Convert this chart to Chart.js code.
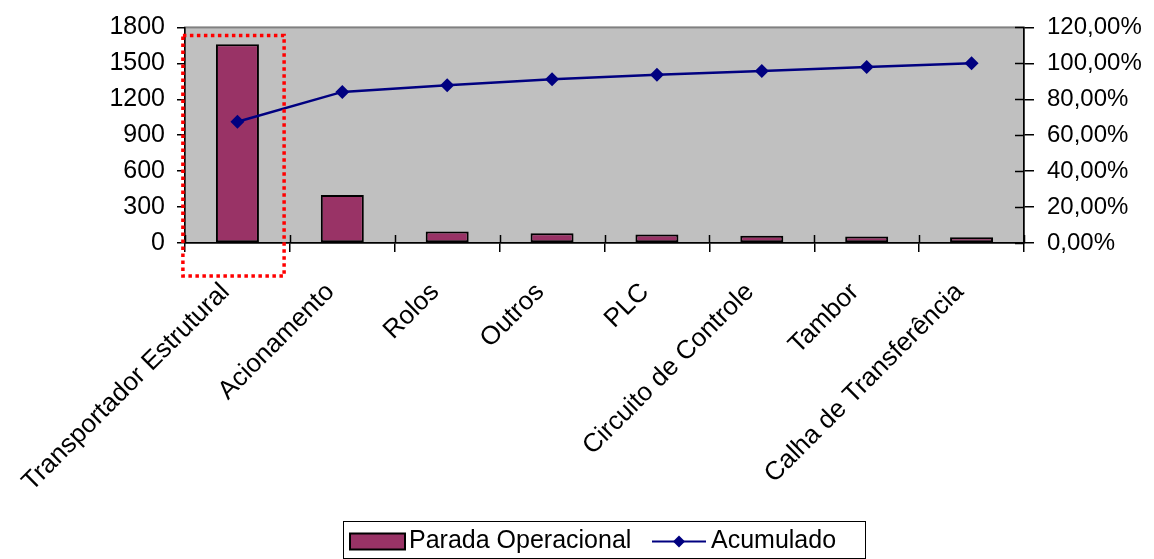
<!DOCTYPE html>
<html>
<head>
<meta charset="utf-8">
<script src="https://cdn.jsdelivr.net/npm/chart.js@4/dist/chart.umd.min.js"></script>
<style>
  html, body { margin: 0; padding: 0; background: #ffffff; }
  #wrap { width: 1154px; height: 559px; position: relative; }
</style>
</head>
<body>
<div id="wrap"><canvas id="c" width="1154" height="559"></canvas></div>
<script>
// Pareto das paradas operacionais
const categories = [
  'Transportador Estrutural', 'Acionamento', 'Rolos', 'Outros',
  'PLC', 'Circuito de Controle', 'Tambor', 'Calha de Transferência'
];
const paradaOperacional = [1660, 400, 95, 81, 70, 60, 54, 48];
const acumulado = [67.5, 84.1, 87.8, 91.2, 93.6, 95.8, 98.0, 100.0];
const leftTicks = [0, 300, 600, 900, 1200, 1500, 1800];
const rightTicks = [0, 20, 40, 60, 80, 100, 120];

const FAMILY = '"Liberation Sans", Arial, sans-serif';
const FONT = { family: FAMILY, size: 25 };
const LABEL_FONT = { family: FAMILY, size: 26 };
const AXIS_FONT = { family: FAMILY, size: 24 };
const BAR_COLOR = '#993366';
const LINE_COLOR = '#000080';

// Grey plot area with its frame
const plotBackground = {
  id: 'plotBackground',
  beforeDraw(chart) {
    const { ctx, chartArea: a } = chart;
    ctx.save();
    ctx.fillStyle = '#c0c0c0';
    ctx.fillRect(a.left, a.top, a.right - a.left, a.bottom - a.top);
    ctx.strokeStyle = '#808080';
    ctx.lineWidth = 2;
    ctx.strokeRect(a.left, a.top, a.right - a.left, a.bottom - a.top);
    ctx.restore();
  },
  beforeDatasetsDraw(chart) {
    // inner halves of the crossing tick marks
    const { ctx, chartArea: a, scales } = chart;
    ctx.save();
    ctx.strokeStyle = '#000';
    ctx.lineWidth = 1.5;
    const n = categories.length;
    const w = (a.right - a.left) / n;
    ctx.beginPath();
    for (let i = 0; i <= n; i++) {
      const x = Math.round(a.left + i * w) + 0.5;
      ctx.moveTo(x, a.bottom - 8);
      ctx.lineTo(x, a.bottom);
    }
    rightTicks.forEach(v => {
      const y = Math.round(scales.y1.getPixelForValue(v)) + 0.5;
      ctx.moveTo(a.right - 9, y);
      ctx.lineTo(a.right, y);
    });
    ctx.stroke();
    ctx.restore();
  }
};

// Dotted highlight around the first category, and the boxed legend
const overlay = {
  id: 'overlay',
  afterDraw(chart) {
    const { ctx, chartArea: a, scales } = chart;
    const x = scales.x;
    const cw = (a.right - a.left) / categories.length;
    const cx = x.getPixelForValue(0);
    ctx.save();
    ctx.strokeStyle = '#ff0000';
    ctx.lineWidth = 3.5;
    ctx.setLineDash([3.5, 3.5]);
    const l = cx - cw * 0.52, r = cx + cw * 0.445;
    const t = a.top + 8, b = a.bottom + 33;
    ctx.strokeRect(l, t, r - l, b - t);
    ctx.restore();

    // legend
    const ds = chart.data.datasets;
    ctx.save();
    ctx.font = `${FONT.size}px ${FONT.family}`;
    ctx.textBaseline = 'middle';
    ctx.textAlign = 'left';
    const boxL = 343, boxT = 521, boxR = 865, boxB = 558;
    ctx.strokeStyle = '#000';
    ctx.lineWidth = 1;
    ctx.strokeRect(boxL + 0.5, boxT + 0.5, boxR - boxL, boxB - boxT);
    const cy = 541.5;
    // bar swatch
    ctx.fillStyle = ds[0].backgroundColor;
    ctx.fillRect(350, cy - 8, 55, 16);
    ctx.lineWidth = 2;
    ctx.strokeRect(350, cy - 8, 55, 16);
    ctx.fillStyle = '#000';
    ctx.fillText(ds[0].label, 409, cy);
    // line swatch
    ctx.strokeStyle = ds[1].borderColor;
    ctx.lineWidth = 2;
    ctx.beginPath();
    ctx.moveTo(652, cy);
    ctx.lineTo(706, cy);
    ctx.stroke();
    ctx.fillStyle = ds[1].borderColor;
    ctx.beginPath();
    ctx.moveTo(679, cy - 6);
    ctx.lineTo(685, cy);
    ctx.lineTo(679, cy + 6);
    ctx.lineTo(673, cy);
    ctx.closePath();
    ctx.fill();
    ctx.fillStyle = '#000';
    ctx.fillText(ds[1].label, 711, cy);
    ctx.restore();
  }
};

new Chart(document.getElementById('c'), {
  data: {
    labels: categories,
    datasets: [
      {
        type: 'bar',
        label: 'Parada Operacional',
        data: paradaOperacional,
        yAxisID: 'y',
        backgroundColor: BAR_COLOR,
        borderColor: '#000',
        borderWidth: 2,
        borderSkipped: false,
        barPercentage: 0.41,
        categoryPercentage: 1,
        order: 1
      },
      {
        type: 'line',
        label: 'Acumulado',
        data: acumulado,
        yAxisID: 'y1',
        borderColor: LINE_COLOR,
        backgroundColor: LINE_COLOR,
        borderWidth: 2.5,
        pointStyle: 'rectRot',
        pointRadius: 7,
        pointBorderWidth: 0,
        tension: 0,
        order: 0
      }
    ]
  },
  options: {
    responsive: false,
    animation: false,
    devicePixelRatio: 1,
    layout: { padding: { top: 26, left: 0, right: 0, bottom: 0 } },
    plugins: {
      legend: { display: false },
      tooltip: { enabled: false }
    },
    scales: {
      x: {
        type: 'category',
        offset: true,
        grid: { offset: true, drawOnChartArea: false, drawTicks: true, tickLength: 9, color: '#000', lineWidth: 1.5 },
        border: { display: true, color: '#000', width: 1.5 },
        ticks: { minRotation: 45, maxRotation: 45, autoSkip: false, color: '#000', font: LABEL_FONT, padding: 25, labelOffset: -12 },
        afterFit(s) { s.height = 316; }
      },
      y: {
        position: 'left',
        min: 0,
        max: 1800,
        afterBuildTicks(s) { s.ticks = leftTicks.map(v => ({ value: v })); },
        grid: { drawOnChartArea: false, drawTicks: true, tickLength: 8, color: '#000', lineWidth: 1.5 },
        border: { display: true, color: '#000', width: 1.5 },
        ticks: { color: '#000', font: FONT, padding: 12, callback: v => String(v) },
        afterFit(s) { s.width = 185; }
      },
      y1: {
        position: 'right',
        min: 0,
        max: 120,
        afterBuildTicks(s) { s.ticks = rightTicks.map(v => ({ value: v })); },
        grid: { drawOnChartArea: false, drawTicks: true, tickLength: 10, color: '#000', lineWidth: 1.5 },
        border: { display: true, color: '#000', width: 1.5 },
        ticks: {
          color: '#000',
          font: AXIS_FONT,
          padding: 13,
          callback: v => v.toFixed(2).replace('.', ',') + '%'
        },
        afterFit(s) { s.width = 130; }
      }
    }
  },
  plugins: [plotBackground, overlay]
});
</script>
</body>
</html>
